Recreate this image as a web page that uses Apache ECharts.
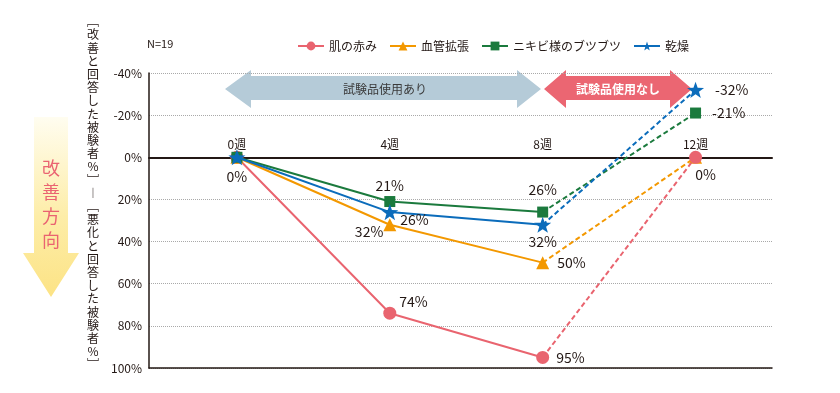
<!DOCTYPE html>
<html><head><meta charset="utf-8">
<script src="https://cdn.jsdelivr.net/npm/echarts@6/dist/echarts.min.js"></script>
<style>html,body{margin:0;padding:0;background:#fff}#c{width:840px;height:393px}</style>
</head><body><div id="c"></div>
<script>
const weeks = [0, 4, 8, 12];
const weekLabels = ['0週', '4週', '8週', '12週'];
const seriesNames = ['肌の赤み', '血管拡張', 'ニキビ様のブツブツ', '乾燥'];
const redness = [0, 74, 95, 0];
const vasodilation = [0, 32, 50, 0];
const acne = [0, 21, 26, -21];
const dryness = [0, 26, 32, -32];
const yMin = -40, yMax = 100, yStep = 20;
const yTitle = '﹇改善と回答した被験者%﹈︱﹇悪化と回答した被験者%﹈';
const dirTitle = '改善方向';
const withText = '試験品使用あり';
const withoutText = '試験品使用なし';
const nText = 'N=19';

const FONT = 'Noto Sans CJK JP';
const DARK = '#231815';
const starPath = 'path://M0,-10 L2.35,-3.24 L9.51,-3.09 L3.8,1.24 L5.88,8.09 L0,4 L-5.88,8.09 L-3.8,1.24 L-9.51,-3.09 L-2.35,-3.24 Z';

const GRID_TOP = 73, GRID_BOTTOM = 25, H = 393;
const zeroOffset = (H - GRID_TOP - GRID_BOTTOM) * (0 - yMin) / (yMax - yMin);

// label placement per point (style, not data)
const labelPlace = [
  [{position:'bottom', distance:6}, {position:'right', distance:3, offset:[0,-12]}, {position:'right', distance:7}, {position:'bottom', distance:4, offset:[10,0]}],
  [null, {position:'left', distance:0, offset:[0,7]}, {position:'right', distance:8}, null],
  [null, {position:'top', distance:3}, {position:'top', distance:10}, {position:'right', distance:11}],
  [null, {position:'right', distance:2, offset:[0,8]}, {position:'bottom', distance:2}, {position:'right', distance:11}]
];
const colors = ['#e9646f', '#f39800', '#1b7a3d', '#0b6cbb'];
const symbols = ['circle', 'triangle', 'rect', starPath];
const symSizes = [13, 13, 11, 17];
const dashZ = [12, 8, 9, 10];
const values = [redness, vasodilation, acne, dryness];

function lbl(cfg) {
  if (!cfg) return {show:false};
  return Object.assign({show:true, color:DARK, fontSize:14, fontFamily:FONT, formatter: p => p.value[1] + '%'}, cfg);
}

const series = [];
values.forEach((vals, s) => {
  series.push({
    name: seriesNames[s], type:'line', xAxisIndex:0, yAxisIndex:0,
    symbol: symbols[s], symbolSize: symSizes[s], symbolKeepAspect:true,
    color: colors[s], lineStyle:{color:colors[s], width:2},
    itemStyle:{color:colors[s]}, z: 3 + s,
    data: [0,1,2].map(i => ({value:[weeks[i], vals[i]], label: lbl(labelPlace[s][i])}))
  });
});
values.forEach((vals, s) => {
  series.push({
    name: seriesNames[s], type:'line', xAxisIndex:0, yAxisIndex:0,
    symbol: symbols[s], symbolSize: symSizes[s], symbolKeepAspect:true,
    color: colors[s], lineStyle:{color:colors[s], width:2, type:[5,3]},
    itemStyle:{color:colors[s]}, z: dashZ[s],
    data: [
      {value:[weeks[2], vals[2]], symbol:'none', label:{show:false}},
      {value:[weeks[3], vals[3]], label: lbl(labelPlace[s][3])}
    ]
  });
});

function vstack(str) { return Array.from(str).join('\n'); }

const AY1 = 76, AY2 = 100, AH1 = 70, AH2 = 108, AYC = 89;
const chart = echarts.init(document.getElementById('c'));
chart.setOption({
  animation:false,
  textStyle:{fontFamily:FONT},
  grid:{left:149, right:68, top:GRID_TOP, bottom:GRID_BOTTOM},
  legend:{
    data: seriesNames, left:292, top:35, itemWidth:26, itemHeight:11, itemGap:12,
    textStyle:{color:DARK, fontSize:12, fontFamily:FONT}
  },
  xAxis:[{
    type:'value', min:-2.3, max:14, position:'top', offset: -zeroOffset,
    axisLine:{show:true, onZero:false, lineStyle:{color:DARK, width:2}},
    axisTick:{show:false}, splitLine:{show:false},
    axisLabel:{customValues: weeks, formatter: v => weekLabels[weeks.indexOf(v)], color:DARK, fontSize:12, margin:7}
  },{
    type:'value', min:-2.3, max:14, position:'bottom',
    axisLine:{show:true, onZero:false, lineStyle:{color:DARK, width:1.5}},
    axisTick:{show:false}, splitLine:{show:false}, axisLabel:{show:false}
  }],
  yAxis:{
    type:'value', inverse:true, min:yMin, max:yMax, interval:yStep,
    axisLine:{show:true, onZero:false, lineStyle:{color:DARK, width:1.5}},
    axisTick:{show:false},
    splitLine:{show:true, lineStyle:{type:'dotted', color:'#a9a9a9', width:1}},
    axisLabel:{formatter: v => v + '%', color:DARK, fontSize:12, margin:7}
  },
  graphic:[
    {type:'text', left:147, top:38, style:{text:nText, fill:DARK, font:'11px "'+FONT+'"'}},
    {type:'text', x:93, y:15, style:{text:vstack(yTitle), fill:DARK, font:'12px "'+FONT+'"', lineHeight:13.2, align:'center', verticalAlign:'top'}},
    {type:'polygon', shape:{points:[[34,117],[68,117],[68,253],[79,253],[51,297],[23,253],[34,253]]},
      style:{fill:new echarts.graphic.LinearGradient(0,0,0,1,[{offset:0,color:'#fffdf0'},{offset:0.55,color:'#fdeda8'},{offset:1,color:'#fce385'}])}},
    {type:'text', x:51, y:156, style:{text:vstack(dirTitle), fill:'#ea6371', font:'18px "'+FONT+'"', lineHeight:24, align:'center', verticalAlign:'top'}},
    {type:'polygon', shape:{points:[[225,AYC],[251,AH1],[251,AY1],[517,AY1],[517,AH1],[541,AYC],[517,AH2],[517,AY2],[251,AY2],[251,AH2]]},
      style:{fill:'#b5cbd8'}},
    {type:'text', x:385, y:AYC, style:{text:withText, fill:'#3a3a3a', font:'12px "'+FONT+'"', align:'center', verticalAlign:'middle'}},
    {type:'polygon', shape:{points:[[544,AYC],[566,AH1],[566,AY1],[670,AY1],[670,AH1],[692,AYC],[670,AH2],[670,AY2],[566,AY2],[566,AH2]]},
      style:{fill:'#eb6672'}},
    {type:'text', x:618, y:AYC, style:{text:withoutText, fill:'#fff', font:'bold 12px "'+FONT+'"', align:'center', verticalAlign:'middle'}}
  ],
  series: series
});
</script></body></html>
